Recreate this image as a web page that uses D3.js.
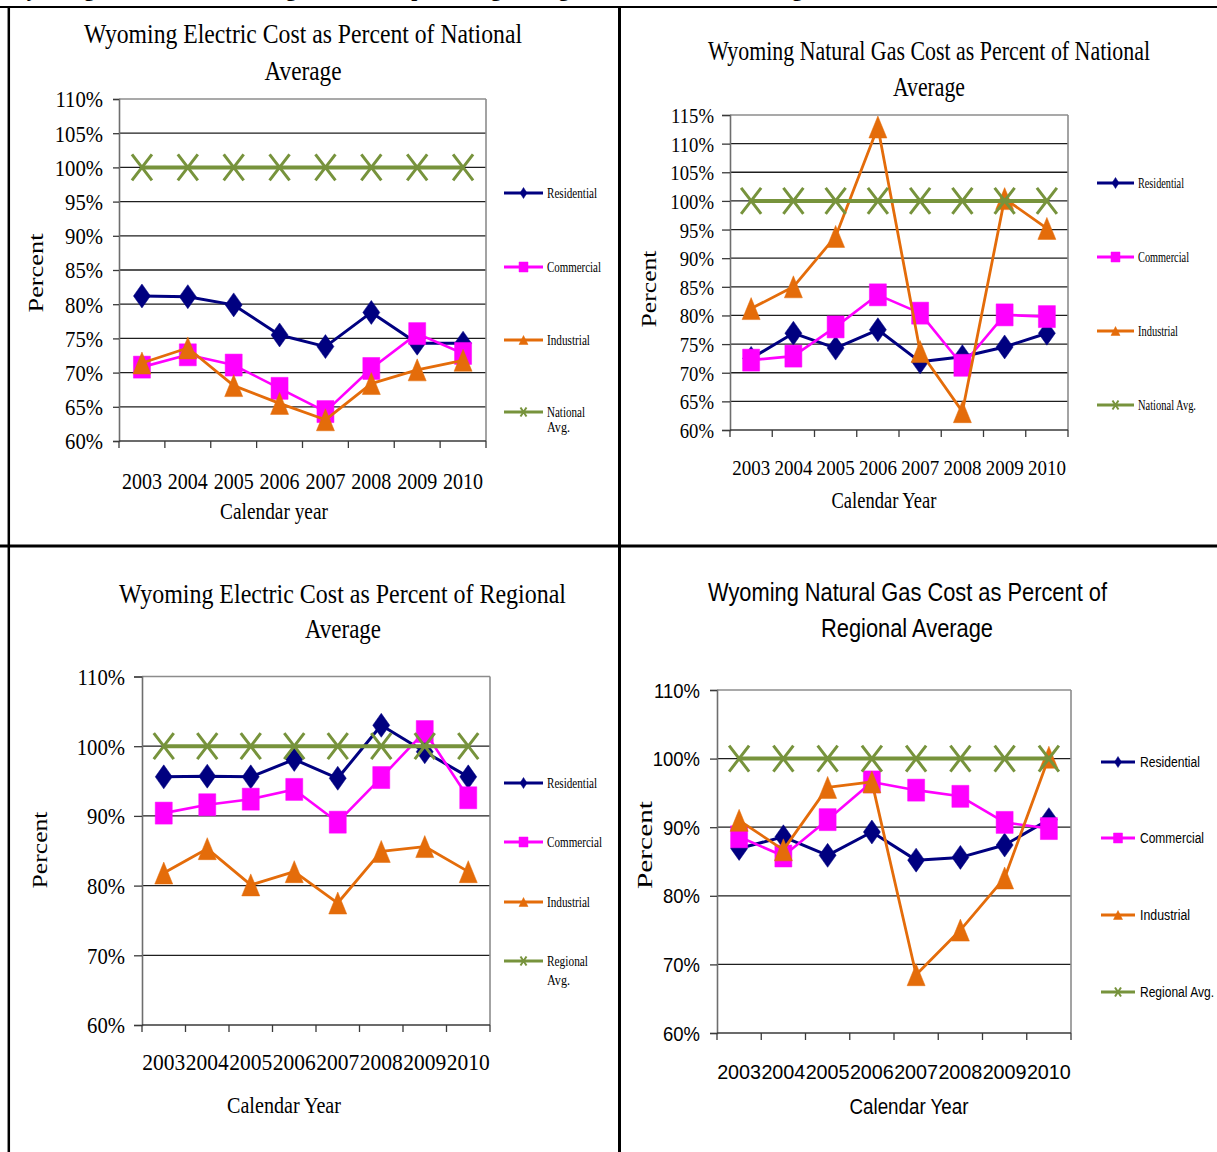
<!DOCTYPE html>
<html>
<head>
<meta charset="utf-8">
<script src="https://cdn.jsdelivr.net/npm/d3@7"></script>
<style>
  body { margin: 0; background: #fff; }
  svg { display: block; }
</style>
</head>
<body>
<svg id="page" width="1217" height="1152"></svg>
<script>
// ---------- data ----------
const years = ["2003", "2004", "2005", "2006", "2007", "2008", "2009", "2010"];

// Electric cost, percent of national average
const elecNatResidential = [81.2, 81.1, 79.9, 75.5, 73.8, 78.8, 74.3, 74.3];
const elecNatCommercial  = [70.8, 72.6, 71.1, 67.7, 64.3, 70.6, 75.7, 72.8];
const elecNatIndustrial  = [71.4, 73.6, 68.1, 65.5, 63.1, 68.4, 70.4, 71.8];

// Natural gas cost, percent of national average
const gasNatResidential = [72.5, 76.9, 74.3, 77.5, 71.9, 72.8, 74.5, 76.9];
const gasNatCommercial  = [72.2, 72.9, 78.0, 83.6, 80.4, 71.3, 80.1, 79.8];
const gasNatIndustrial  = [81.2, 85.0, 93.8, 112.9, 73.7, 63.2, 100.4, 95.2];

// Electric cost, percent of regional average
const elecRegResidential = [95.6, 95.7, 95.6, 98.1, 95.4, 103.0, 99.2, 95.6];
const elecRegCommercial  = [90.4, 91.6, 92.4, 93.8, 89.1, 95.5, 102.1, 92.6];
const elecRegIndustrial  = [81.8, 85.3, 80.1, 82.0, 77.5, 84.9, 85.6, 82.0];

// Natural gas cost, percent of regional average
const gasRegResidential = [86.9, 88.6, 85.9, 89.3, 85.2, 85.6, 87.4, 91.1];
const gasRegCommercial  = [88.6, 85.8, 91.1, 96.6, 95.4, 94.5, 90.7, 89.8];
const gasRegIndustrial  = [91.0, 86.7, 95.8, 96.6, 68.5, 75.0, 82.6, 100.2];

// Benchmark (national or regional average) is 100% every year
const benchmarkAvg = [100, 100, 100, 100, 100, 100, 100, 100];

// y-axis tick values
const ticksElecNat = [60, 65, 70, 75, 80, 85, 90, 95, 100, 105, 110];
const ticksGasNat  = [60, 65, 70, 75, 80, 85, 90, 95, 100, 105, 110, 115];
const ticksRegional = [60, 70, 80, 90, 100, 110];

// legend labels (line-broken as drawn)
const legendNatWrapped = [["Residential"], ["Commercial"], ["Industrial"], ["National", "Avg."]];
const legendNatOneLine = [["Residential"], ["Commercial"], ["Industrial"], ["National Avg."]];
const legendRegWrapped = [["Residential"], ["Commercial"], ["Industrial"], ["Regional", "Avg."]];
const legendRegOneLine = [["Residential"], ["Commercial"], ["Industrial"], ["Regional Avg."]];

// ---------- styling ----------
const SERIF = "'Liberation Serif','Times New Roman',serif";
const SANS = "'Liberation Sans',Arial,sans-serif";
const seriesStyle = [
  { color: "#000080", shape: "diamond",  w: 17, h: 24, lw: 3,   lgW: 7, lgH: 11 },
  { color: "#FF00FF", shape: "square",   w: 17, h: 22, lw: 2.6, lgW: 9, lgH: 10 },
  { color: "#E46C0A", shape: "triangle", w: 18, h: 22, lw: 2.8, lgW: 9, lgH: 9 },
  { color: "#77933C", shape: "x",        w: 20, h: 26, lw: 4,   lgW: 6, lgH: 9 }
];

function markerPath(shape, w, h) {
  switch (shape) {
    case "diamond":  return `M0,${-h / 2}L${w / 2},0L0,${h / 2}L${-w / 2},0Z`;
    case "square":   return `M${-w / 2},${-h / 2}h${w}v${h}h${-w}Z`;
    case "triangle": return `M0,${-h / 2}L${w / 2},${h / 2}L${-w / 2},${h / 2}Z`;
    default:         return `M${-w / 2},${-h / 2}L${w / 2},${h / 2}M${w / 2},${-h / 2}L${-w / 2},${h / 2}`;
  }
}

function fitWidth(sel, width) {
  sel.attr("textLength", width).attr("lengthAdjust", "spacingAndGlyphs");
}
function squeeze(sel, k) {
  sel.each(function () {
    const w = this.getComputedTextLength();
    d3.select(this).attr("textLength", w * k).attr("lengthAdjust", "spacingAndGlyphs");
  });
}

// ---------- chart layouts ----------
const charts = [
  {
    font: SERIF,
    plot: { x0: 119, x1: 486, y0: 441, y1: 99 },
    domain: [60, 110], ticks: ticksElecNat,
    series: [elecNatResidential, elecNatCommercial, elecNatIndustrial, benchmarkAvg],
    titleSize: 27,
    title: [
      { text: "Wyoming Electric Cost as Percent of National", x: 303, y: 43, w: 438 },
      { text: "Average", x: 303, y: 80, w: 77 }
    ],
    yLabel: { x: 43, y: 273, len: 79, size: 22 },
    yTick: { size: 23, k: 0.9, len: 6, pad: 10 },
    xTick: { size: 23, w: 40, y: 489 },
    xTitle: { text: "Calendar year", x: 274, y: 519, w: 108, size: 23 },
    legend: { x0: 504, x1: 543, tx: 547, size: 15, gap: 15, ys: [193, 267, 340, 412],
              labels: legendNatWrapped, widths: [[50], [54], [43], [38, 23]] }
  },
  {
    font: SERIF,
    plot: { x0: 730, x1: 1068, y0: 430, y1: 115 },
    domain: [60, 115], ticks: ticksGasNat,
    series: [gasNatResidential, gasNatCommercial, gasNatIndustrial, benchmarkAvg],
    titleSize: 27,
    title: [
      { text: "Wyoming Natural Gas Cost as Percent of National", x: 929, y: 60, w: 442 },
      { text: "Average", x: 929, y: 96, w: 72 }
    ],
    yLabel: { x: 656, y: 289, len: 77, size: 22 },
    yTick: { size: 22, k: 0.85, len: 8, pad: 8 },
    xTick: { size: 22, w: 38, y: 475 },
    xTitle: { text: "Calendar Year", x: 884, y: 508, w: 105, size: 23 },
    legend: { x0: 1097, x1: 1134, tx: 1138, size: 14, gap: 15, ys: [183, 257, 331, 405],
              labels: legendNatOneLine, widths: [[46], [51], [40], [58]] }
  },
  {
    font: SERIF,
    plot: { x0: 142, x1: 490, y0: 1025, y1: 676.5 },
    domain: [60, 110], ticks: ticksRegional,
    series: [elecRegResidential, elecRegCommercial, elecRegIndustrial, benchmarkAvg],
    titleSize: 27,
    title: [
      { text: "Wyoming Electric Cost as Percent of Regional", x: 342.5, y: 603, w: 447 },
      { text: "Average", x: 343, y: 638, w: 76 }
    ],
    yLabel: { x: 47, y: 850, len: 77, size: 22 },
    yTick: { size: 23, k: 0.9, len: 8, pad: 9 },
    xTick: { size: 23, w: 43, y: 1070 },
    xTitle: { text: "Calendar Year", x: 284, y: 1113, w: 114, size: 23 },
    legend: { x0: 504, x1: 543, tx: 547, size: 15, gap: 19, ys: [783, 842, 902, 961],
              labels: legendRegWrapped, widths: [[50], [55], [43], [41, 23]] }
  },
  {
    font: SANS,
    plot: { x0: 717, x1: 1071, y0: 1033, y1: 690 },
    domain: [60, 110], ticks: ticksRegional,
    series: [gasRegResidential, gasRegCommercial, gasRegIndustrial, benchmarkAvg],
    titleSize: 26,
    title: [
      { text: "Wyoming Natural Gas Cost as Percent of", x: 907.5, y: 601, w: 399 },
      { text: "Regional Average", x: 907, y: 637, w: 172 }
    ],
    yLabel: { x: 652, y: 845, len: 88, size: 22, font: SERIF },
    yTick: { size: 21, k: 0.88, len: 7, pad: 10 },
    xTick: { size: 21, w: 44, y: 1079 },
    xTitle: { text: "Calendar Year", x: 909, y: 1114, w: 119, size: 22 },
    legend: { x0: 1101, x1: 1135, tx: 1140, size: 14, gap: 15, ys: [762, 838, 915, 992],
              labels: legendRegOneLine, widths: [[60], [64], [50], [74]] }
  }
];

const svg = d3.select("#page");

// ---------- page frame and heading running off the top ----------
const heading = svg.append("text")
  .attr("x", 6).attr("y", -4)
  .attr("font-family", SERIF).attr("font-weight", "bold").attr("font-size", 22)
  .attr("fill", "#000")
  .text("Wyoming electric and natural gas costs as a percentage of regional and national averages.");
fitWidth(heading, 820);

const frame = svg.append("g").attr("stroke", "#000").attr("fill", "none");
frame.append("line").attr("x1", 0).attr("x2", 1217).attr("y1", 7).attr("y2", 7).attr("stroke-width", 2);
frame.append("line").attr("x1", 8.8).attr("x2", 8.8).attr("y1", 6).attr("y2", 1152).attr("stroke-width", 2.5);
frame.append("line").attr("x1", 619.5).attr("x2", 619.5).attr("y1", 6).attr("y2", 1152).attr("stroke-width", 3);
frame.append("line").attr("x1", 0).attr("x2", 1217).attr("y1", 546).attr("y2", 546).attr("stroke-width", 3);

// ---------- charts ----------
charts.forEach(cfg => {
  const g = svg.append("g");
  const { x0, x1, y0, y1 } = cfg.plot;

  const x = d3.scaleBand().domain(years).range([x0, x1]);
  const y = d3.scaleLinear().domain(cfg.domain).range([y0, y1]);
  const cx = d => x(d) + x.bandwidth() / 2;

  // title
  cfg.title.forEach(t => {
    const tt = g.append("text")
      .attr("x", t.x).attr("y", t.y).attr("text-anchor", "middle")
      .attr("font-family", cfg.font).attr("font-size", cfg.titleSize).attr("fill", "#000")
      .text(t.text);
    fitWidth(tt, t.w);
  });

  // horizontal gridlines; the top one doubles as the plot frame
  g.append("g").selectAll("line")
    .data(cfg.ticks.filter(v => v > cfg.domain[0]))
    .join("line")
    .attr("x1", x0).attr("x2", x1)
    .attr("y1", d => y(d)).attr("y2", d => y(d))
    .attr("stroke", d => d === cfg.domain[1] ? "#8c8c8c" : "#1e1e1e")
    .attr("stroke-width", d => d === cfg.domain[1] ? 1.6 : 1.3);
  g.append("line")
    .attr("x1", x1).attr("x2", x1).attr("y1", y1).attr("y2", y0)
    .attr("stroke", "#8c8c8c").attr("stroke-width", 1.6);

  // y axis
  const yAxis = g.append("g").attr("transform", `translate(${x0},0)`)
    .call(d3.axisLeft(y).tickValues(cfg.ticks).tickSizeOuter(0)
      .tickSize(cfg.yTick.len).tickPadding(cfg.yTick.pad).tickFormat(d => d + "%"));
  yAxis.select(".domain").attr("stroke", "#6e6e6e").attr("stroke-width", 1.6);
  yAxis.selectAll(".tick line").attr("stroke", "#3a3a3a").attr("stroke-width", 1.3);
  const yt = yAxis.selectAll(".tick text")
    .attr("font-family", cfg.font).attr("font-size", cfg.yTick.size).attr("fill", "#000")
    .attr("dy", "0.34em");
  squeeze(yt, cfg.yTick.k);
  yAxis.attr("font-family", null).attr("font-size", null);

  // x axis: category boundary ticks and centred year labels
  g.append("line")
    .attr("x1", x0).attr("x2", x1).attr("y1", y0).attr("y2", y0)
    .attr("stroke", "#3a3a3a").attr("stroke-width", 1.6);
  g.append("g").selectAll("line")
    .data(years.map(d => x(d)).concat([x1]))
    .join("line")
    .attr("x1", d => d).attr("x2", d => d).attr("y1", y0).attr("y2", y0 + 7)
    .attr("stroke", "#3a3a3a").attr("stroke-width", 1.3);
  const xAxis = g.append("g").attr("transform", `translate(0,${y0})`)
    .call(d3.axisBottom(x).tickSize(0));
  xAxis.select(".domain").remove();
  const xt = xAxis.selectAll(".tick text")
    .attr("y", cfg.xTick.y - y0).attr("dy", 0)
    .attr("font-family", cfg.font).attr("font-size", cfg.xTick.size).attr("fill", "#000");
  fitWidth(xt, cfg.xTick.w);
  xAxis.attr("font-family", null).attr("font-size", null);

  // axis titles
  const xTitle = g.append("text")
    .attr("x", cfg.xTitle.x).attr("y", cfg.xTitle.y).attr("text-anchor", "middle")
    .attr("font-family", cfg.font).attr("font-size", cfg.xTitle.size).attr("fill", "#000")
    .text(cfg.xTitle.text);
  fitWidth(xTitle, cfg.xTitle.w);
  const yTitle = g.append("text")
    .attr("transform", `translate(${cfg.yLabel.x},${cfg.yLabel.y}) rotate(-90)`)
    .attr("text-anchor", "middle")
    .attr("font-family", cfg.yLabel.font || cfg.font).attr("font-size", cfg.yLabel.size).attr("fill", "#000")
    .text("Percent");
  fitWidth(yTitle, cfg.yLabel.len);

  // series: line then markers, drawn in legend order
  const line = d3.line().x((d, i) => cx(years[i])).y(d => y(d));
  cfg.series.forEach((vals, si) => {
    const st = seriesStyle[si];
    const sg = g.append("g");
    sg.append("path").datum(vals)
      .attr("d", line).attr("fill", "none")
      .attr("stroke", st.color).attr("stroke-width", st.lw)
      .attr("stroke-linejoin", "round");
    sg.selectAll("path.mk").data(vals).join("path")
      .attr("class", "mk")
      .attr("transform", (d, i) => `translate(${cx(years[i])},${y(d)})`)
      .attr("d", markerPath(st.shape, st.w, st.h))
      .attr("fill", st.shape === "x" ? "none" : st.color)
      .attr("stroke", st.color)
      .attr("stroke-width", st.shape === "x" ? 3 : 0.5);
  });

  // legend
  const L = cfg.legend;
  L.labels.forEach((lines, si) => {
    const st = seriesStyle[si];
    const ly = L.ys[si];
    const lg = g.append("g");
    lg.append("line").attr("x1", L.x0).attr("x2", L.x1).attr("y1", ly).attr("y2", ly)
      .attr("stroke", st.color).attr("stroke-width", 3);
    lg.append("path")
      .attr("transform", `translate(${(L.x0 + L.x1) / 2},${ly})`)
      .attr("d", markerPath(st.shape, st.lgW, st.lgH))
      .attr("fill", st.shape === "x" ? "none" : st.color)
      .attr("stroke", st.color).attr("stroke-width", st.shape === "x" ? 2 : 0.5);
    lines.forEach((txt, li) => {
      const t = lg.append("text")
        .attr("x", L.tx).attr("y", ly + 5 + li * L.gap)
        .attr("font-family", cfg.font).attr("font-size", L.size).attr("fill", "#000")
        .text(txt);
      fitWidth(t, L.widths[si][li]);
    });
  });
});
</script>
</body>
</html>
